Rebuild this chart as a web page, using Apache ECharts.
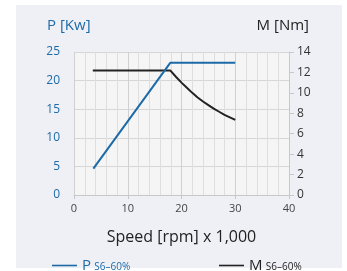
<!DOCTYPE html>
<html>
<head>
<meta charset="utf-8">
<script src="https://cdn.jsdelivr.net/npm/echarts@6/dist/echarts.min.js"></script>
<style>
  html, body { margin: 0; padding: 0; background: #fff; }
  #chart { width: 347px; height: 271px; }
</style>
</head>
<body>
<div id="chart"></div>
<script>
// speed in 1000 rpm
const powerSpeed = [3.6, 17.9, 30];
const powerValues = [4.6, 23.1, 23.1];
const torqueSpeed = [3.5, 17.9, 19, 20, 21, 22, 23, 24, 25, 26, 27, 28, 29, 30];
const torqueValues = [12.2, 12.2, 11.55, 11.0, 10.5, 10.0, 9.55, 9.15, 8.8, 8.45, 8.15, 7.85, 7.6, 7.35];

const blue = '#1c6aa8';
const dark = '#222';

const chart = echarts.init(document.getElementById('chart'), null, { renderer: 'canvas' });

const gridLine = { show: true, lineStyle: { color: '#d6d6d6', width: 1 } };
const lineIcon = 'path://M0,4L25,4L25,5.6L0,5.6Z';

chart.setOption({
  animation: false,
  backgroundColor: '#fff',
  graphic: [
    {
      type: 'rect',
      z: -10,
      shape: { x: 16, y: 5, width: 326, height: 263 },
      style: { fill: '#eff0f6' }
    },
    {
      type: 'text',
      left: 47, top: 18,
      style: { text: 'P [Kw]', fill: blue, font: '15px "Open Sans", sans-serif' }
    },
    {
      type: 'text',
      right: 38, top: 18,
      style: { text: 'M [Nm]', fill: dark, font: '15px "Open Sans", sans-serif' }
    }
  ],
  grid: {
    left: 74, right: 58, top: 52, bottom: 76,
    show: true, backgroundColor: '#f5f5f5', borderWidth: 0
  },
  legend: [
    {
      data: ['P'],
      left: 47, top: 253,
      itemWidth: 25, itemHeight: 10, itemGap: 4,
      icon: lineIcon,
      itemStyle: { color: blue },
      formatter: () => '{a|P} {b|S6–60%}',
      textStyle: {
        rich: {
          a: { color: blue, fontSize: 15, fontFamily: 'Open Sans' },
          b: { color: blue, fontSize: 10, fontFamily: 'Open Sans', padding: [3, 0, 0, 0] }
        }
      }
    },
    {
      data: ['M'],
      left: 214, top: 253,
      itemWidth: 25, itemHeight: 10, itemGap: 4,
      icon: lineIcon,
      itemStyle: { color: dark },
      formatter: () => '{a|M} {b|S6–60%}',
      textStyle: {
        rich: {
          a: { color: dark, fontSize: 15, fontFamily: 'Open Sans' },
          b: { color: dark, fontSize: 10, fontFamily: 'Open Sans', padding: [3, 0, 0, 0] }
        }
      }
    }
  ],
  xAxis: {
    type: 'value',
    min: 0, max: 40, interval: 10,
    name: 'Speed [rpm] x 1,000',
    nameLocation: 'middle',
    nameGap: 34,
    nameTextStyle: { color: '#222', fontSize: 16, fontFamily: 'Open Sans' },
    axisLine: { show: true, lineStyle: { color: '#c8c8c8' } },
    axisTick: { show: true, length: 4, lineStyle: { color: '#c8c8c8' } },
    axisLabel: { color: '#444', fontSize: 11, fontFamily: 'Open Sans', margin: 8 },
    splitLine: { show: true, lineStyle: { color: '#d0d0d0', width: 1 } },
    minorTick: { show: false, splitNumber: 5 },
    minorSplitLine: { show: true, lineStyle: { color: '#dedede', width: 1 } }
  },
  yAxis: [
    {
      type: 'value',
      min: 0, max: 25, interval: 5,
      position: 'left',
      axisLine: { show: false },
      axisTick: { show: false },
      axisLabel: { color: blue, fontSize: 12, fontFamily: 'Open Sans', margin: 14 },
      splitLine: gridLine
    },
    {
      type: 'value',
      min: 0, max: 14, interval: 2,
      position: 'right',
      axisLine: { show: true, lineStyle: { color: '#c8c8c8' } },
      axisTick: { show: true, length: 5, lineStyle: { color: '#c8c8c8' } },
      axisLabel: { color: '#333', fontSize: 12, fontFamily: 'Open Sans', margin: 8 },
      splitLine: { show: false }
    }
  ],
  series: [
    {
      name: 'P',
      type: 'line',
      yAxisIndex: 0,
      data: powerSpeed.map((s, i) => [s, powerValues[i]]),
      symbol: 'none',
      lineStyle: { color: blue, width: 2 },
      itemStyle: { color: blue },
      z: 3
    },
    {
      name: 'M',
      type: 'line',
      yAxisIndex: 1,
      data: torqueSpeed.map((s, i) => [s, torqueValues[i]]),
      symbol: 'none',
      lineStyle: { color: dark, width: 2, join: 'round' },
      itemStyle: { color: dark },
      z: 2
    }
  ]
});
</script>
</body>
</html>
